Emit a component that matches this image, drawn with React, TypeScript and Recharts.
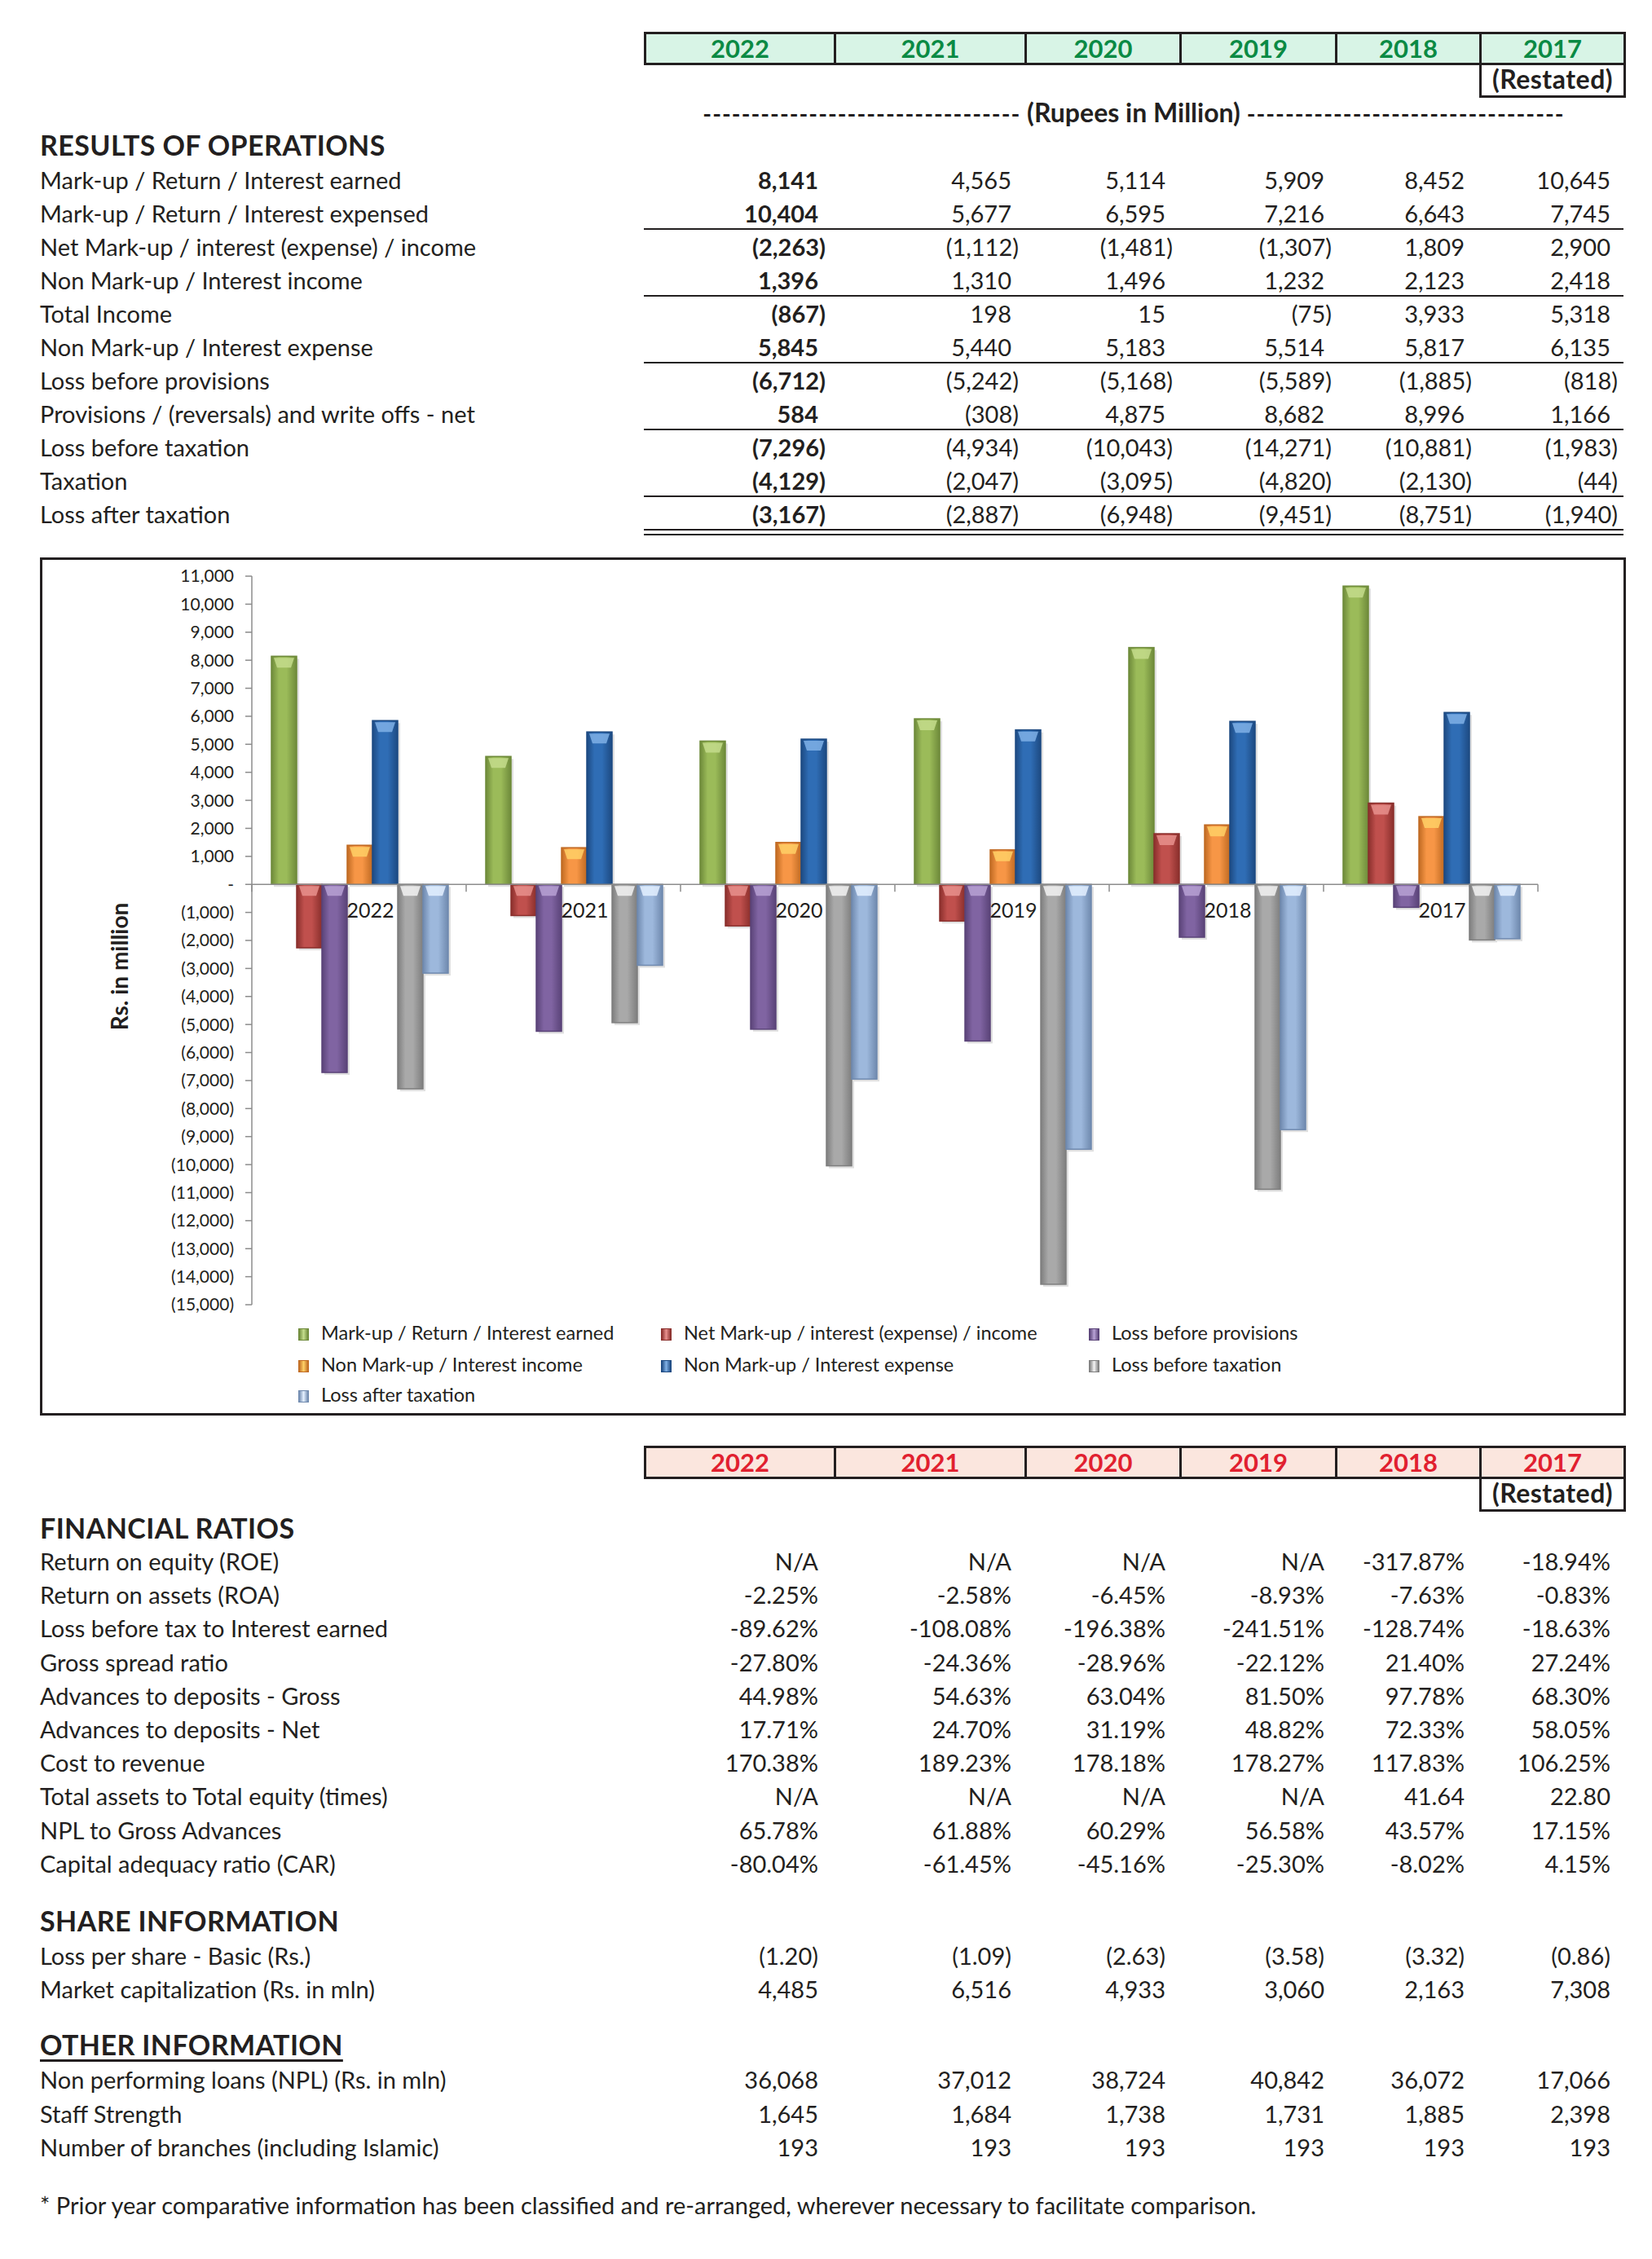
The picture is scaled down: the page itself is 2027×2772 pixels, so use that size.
import React from 'react';
import { Bar, BarChart, Legend, ReferenceLine, XAxis, YAxis } from 'recharts';

const years = ['2022', '2021', '2020', '2019', '2018', '2017'];

// Results of operations (Rs. in million)
const markupEarned = [8141, 4565, 5114, 5909, 8452, 10645];
const markupExpensed = [10404, 5677, 6595, 7216, 6643, 7745];
const netMarkup = [-2263, -1112, -1481, -1307, 1809, 2900];
const nonMarkupIncome = [1396, 1310, 1496, 1232, 2123, 2418];
const totalIncome = [-867, 198, 15, -75, 3933, 5318];
const nonMarkupExpense = [5845, 5440, 5183, 5514, 5817, 6135];
const lossBeforeProvisions = [-6712, -5242, -5168, -5589, -1885, -818];
const provisions = [584, -308, 4875, 8682, 8996, 1166];
const lossBeforeTax = [-7296, -4934, -10043, -14271, -10881, -1983];
const taxation = [-4129, -2047, -3095, -4820, -2130, -44];
const lossAfterTax = [-3167, -2887, -6948, -9451, -8751, -1940];

const yTicks = [11000, 10000, 9000, 8000, 7000, 6000, 5000, 4000, 3000, 2000, 1000, 0,
  -1000, -2000, -3000, -4000, -5000, -6000, -7000, -8000, -9000, -10000, -11000, -12000, -13000, -14000, -15000];
const yDomain: [number, number] = [-15000, 11000];

const ratioLabels = [
  'Return on equity (ROE)', 'Return on assets (ROA)', 'Loss before tax to Interest earned', 'Gross spread ratio',
  'Advances to deposits - Gross', 'Advances to deposits - Net', 'Cost to revenue', 'Total assets to Total equity (times)',
  'NPL to Gross Advances', 'Capital adequacy ratio (CAR)',
];
const ratioValues = [
  ['N/A', 'N/A', 'N/A', 'N/A', '-317.87%', '-18.94%'],
  ['-2.25%', '-2.58%', '-6.45%', '-8.93%', '-7.63%', '-0.83%'],
  ['-89.62%', '-108.08%', '-196.38%', '-241.51%', '-128.74%', '-18.63%'],
  ['-27.80%', '-24.36%', '-28.96%', '-22.12%', '21.40%', '27.24%'],
  ['44.98%', '54.63%', '63.04%', '81.50%', '97.78%', '68.30%'],
  ['17.71%', '24.70%', '31.19%', '48.82%', '72.33%', '58.05%'],
  ['170.38%', '189.23%', '178.18%', '178.27%', '117.83%', '106.25%'],
  ['N/A', 'N/A', 'N/A', 'N/A', '41.64', '22.80'],
  ['65.78%', '61.88%', '60.29%', '56.58%', '43.57%', '17.15%'],
  ['-80.04%', '-61.45%', '-45.16%', '-25.30%', '-8.02%', '4.15%'],
];
const shareLabels = ['Loss per share - Basic (Rs.)', 'Market capitalization (Rs. in mln)'];
const shareValues = [
  ['(1.20)', '(1.09)', '(2.63)', '(3.58)', '(3.32)', '(0.86)'],
  ['4,485', '6,516', '4,933', '3,060', '2,163', '7,308'],
];
const otherLabels = ['Non performing loans (NPL) (Rs. in mln)', 'Staff Strength', 'Number of branches (including Islamic)'];
const otherValues = [
  ['36,068', '37,012', '38,724', '40,842', '36,072', '17,066'],
  ['1,645', '1,684', '1,738', '1,731', '1,885', '2,398'],
  ['193', '193', '193', '193', '193', '193'],
];

const opsRows: [string, number[]][] = [
  ['Mark-up / Return / Interest earned', markupEarned],
  ['Mark-up / Return / Interest expensed', markupExpensed],
  ['Net Mark-up / interest (expense) / income', netMarkup],
  ['Non Mark-up / Interest income', nonMarkupIncome],
  ['Total Income', totalIncome],
  ['Non Mark-up / Interest expense', nonMarkupExpense],
  ['Loss before provisions', lossBeforeProvisions],
  ['Provisions / (reversals) and write offs - net', provisions],
  ['Loss before taxation', lossBeforeTax],
  ['Taxation', taxation],
  ['Loss after taxation', lossAfterTax],
];

const series = [
  { key: 'earned', name: 'Mark-up / Return / Interest earned', values: markupEarned, color: '#9BBB59', dark: '#6E8A3A', light: '#C4DC8C' },
  { key: 'net', name: 'Net Mark-up / interest (expense) / income', values: netMarkup, color: '#C0504D', dark: '#8A2F2C', light: '#E8908D' },
  { key: 'lbp', name: 'Loss before provisions', values: lossBeforeProvisions, color: '#8064A2', dark: '#5A4378', light: '#B7A1D4' },
  { key: 'nmi', name: 'Non Mark-up / Interest income', values: nonMarkupIncome, color: '#F79646', dark: '#C06A22', light: '#FFD066' },
  { key: 'nme', name: 'Non Mark-up / Interest expense', values: nonMarkupExpense, color: '#2F6DB5', dark: '#1D4A82', light: '#7FB0E6' },
  { key: 'lbt', name: 'Loss before taxation', values: lossBeforeTax, color: '#A9A9A9', dark: '#7E7E7E', light: '#F2F2F2' },
  { key: 'lat', name: 'Loss after taxation', values: lossAfterTax, color: '#9DB8DC', dark: '#6F89AE', light: '#E4F0FF' },
];

const chartData = years.map((year, i) => {
  const row: Record<string, string | number> = { year };
  series.forEach(s => { row[s.key] = s.values[i]; });
  return row;
});

// page geometry
const FONT = 'Lato, "Open Sans", sans-serif';
const colEdges = [790, 1023, 1257, 1447, 1638, 1815, 1992];
const valueRight = [1004, 1241, 1430, 1625, 1797, 1976];
const INK = '#231f20';
const ROW_FS = 29;

function fmt(v: number): string {
  const s = Math.abs(v).toLocaleString('en-US');
  return v < 0 ? `(${s})` : s;
}

function Text({ x, y, children, bold, size = ROW_FS, underline, spacing = 0 }: { x: number; y: number; children: React.ReactNode; bold?: boolean; size?: number; underline?: boolean; spacing?: number }) {
  return (
    <div style={{ position: 'absolute', left: x, top: y - 20, height: 40, lineHeight: '40px', fontSize: size, fontWeight: bold ? 700 : 400, letterSpacing: spacing, whiteSpace: 'nowrap', color: INK, textDecoration: underline ? 'underline' : 'none', textDecorationThickness: 3, textUnderlineOffset: 5 }}>
      {children}
    </div>
  );
}

function RText({ right, y, children, bold, pad = 0 }: { right: number; y: number; children: React.ReactNode; bold?: boolean; pad?: number }) {
  return (
    <div style={{ position: 'absolute', left: right - 300, width: 300 - pad, top: y - 20, height: 40, lineHeight: '40px', fontSize: ROW_FS, fontWeight: bold ? 700 : 400, textAlign: 'right', whiteSpace: 'nowrap', color: INK }}>
      {children}
    </div>
  );
}

function YearHeader({ top, fill, color }: { top: number; fill: string; color: string }) {
  return (
    <>
      {years.map((y, i) => (
        <div key={y} style={{ position: 'absolute', left: colEdges[i], top, width: colEdges[i + 1] - colEdges[i] + 3, height: 41, boxSizing: 'border-box', border: `3px solid ${INK}`, background: fill, color, fontWeight: 700, fontSize: 31, textAlign: 'center', lineHeight: '35px' }}>
          {y}
        </div>
      ))}
      <div style={{ position: 'absolute', left: colEdges[5], top: top + 38, width: colEdges[6] - colEdges[5] + 3, height: 43, boxSizing: 'border-box', borderLeft: `3px solid ${INK}`, borderRight: `3px solid ${INK}`, borderBottom: `3px solid ${INK}`, fontWeight: 700, fontSize: 32, letterSpacing: 0.5, textAlign: 'center', lineHeight: '40px', color: INK }}>
        (Restated)
      </div>
    </>
  );
}

function GlossBar(props: any) {
  const { x, y, width, height, index } = props;
  const s = series.find(d => d.key === props.dataKey) || series[0];
  if (!width || !height) return <g />;
  const top = height < 0 ? y + height : y;
  const h = Math.abs(height);
  const id = `grad-${s.key}-${index}`;
  const capH = Math.min(12, h * 0.5);
  return (
    <g>
      <defs>
        <linearGradient id={id} x1="0" y1="0" x2="1" y2="0">
          <stop offset="0%" stopColor={s.dark} />
          <stop offset="30%" stopColor={s.color} />
          <stop offset="60%" stopColor={s.color} />
          <stop offset="100%" stopColor={s.dark} />
        </linearGradient>
      </defs>
      <rect x={x + 3} y={top + 3} width={width} height={h} fill="#000" opacity={0.12} />
      <rect x={x} y={top} width={width} height={h} fill={`url(#${id})`} stroke={s.dark} strokeWidth={1.5} />
      <path d={`M${x + 3},${top + 2} L${x + width - 3},${top + 2} L${x + width - 7},${top + 2 + capH} L${x + 7},${top + 2 + capH} Z`} fill={s.light} opacity={0.85} />
    </g>
  );
}

const CH_W = 1946;
const CH_H = 1053;
const X_AXIS_H = 30;
const M = { top: 23, right: 108, bottom: 136 - X_AXIS_H, left: 150 };
const Y_AXIS_W = 110;
const plotH = CH_H - M.top - M.bottom - X_AXIS_H;
const plotW = CH_W - M.left - Y_AXIS_W - M.right;
const zeroY = M.top + plotH * (yDomain[1] / (yDomain[1] - yDomain[0]));
const band = plotW / years.length;

function CategoryTick(props: any) {
  const { x, payload, index } = props;
  return (
    <g>
      <line x1={x - band / 2} x2={x - band / 2} y1={zeroY} y2={zeroY + 9} stroke="#8c8c8c" strokeWidth={1.5} />
      {index === years.length - 1 && <line x1={x + band / 2} x2={x + band / 2} y1={zeroY} y2={zeroY + 9} stroke="#8c8c8c" strokeWidth={1.5} />}
      <text x={x + 14} y={zeroY + 41} textAnchor="middle" fontSize={25} fill={INK} fontFamily={FONT}>{payload.value}</text>
    </g>
  );
}

function LegendContent() {
  const colX = [317, 762, 1287];
  const rowY = [951, 990, 1027];
  return (
    <div style={{ position: 'relative', width: CH_W, height: 110 }}>
      {series.map((s, i) => {
        const cx = colX[i % 3];
        const cy = rowY[Math.floor(i / 3)] - 935;
        return (
          <div key={s.key} style={{ position: 'absolute', left: cx, top: cy - 15, height: 30, lineHeight: '30px', whiteSpace: 'nowrap', fontSize: 23.5, color: INK, fontFamily: FONT }}>
            <span style={{ display: 'inline-block', width: 11, height: 13, marginRight: 15, verticalAlign: -1, background: `linear-gradient(90deg, ${s.dark}, ${s.light} 50%, ${s.dark})`, border: `1px solid ${s.dark}` }} />
            {s.name}
          </div>
        );
      })}
    </div>
  );
}

function YLabel(props: any) {
  const vb = props.viewBox || { x: 0, y: 0, height: 0 };
  const cx = vb.x - 49;
  const cy = 502;
  return (
    <text x={cx} y={cy} transform={`rotate(-90 ${cx} ${cy})`} textAnchor="middle" dominantBaseline="middle" fontSize={28} fontWeight={700} fill={INK} fontFamily={FONT}>
      Rs. in million
    </text>
  );
}

const dashes = '-'.repeat(33);

export default function App() {
  const opsY = opsRows.map((_, i) => 221 + i * 41);
  const ratioY = ratioLabels.map((_, i) => 1916 + i * 41.2);
  const shareY = [2400, 2441];
  const otherY = [2552, 2594, 2635];
  const lineRuleIdx = [1, 3, 5, 7, 9];

  return (
    <div style={{ position: 'absolute', left: 0, top: 0, width: 2027, height: 2772, background: '#fff', fontFamily: FONT, color: INK }}>
      <YearHeader top={39} fill="#D8F4E6" color="#0A8A44" />
      <div style={{ position: 'absolute', left: 791, width: 1200, top: 118, height: 40, lineHeight: '40px', fontSize: 29, fontWeight: 700, whiteSpace: 'nowrap', textAlign: 'center' }}>
        <span style={{ letterSpacing: 1 }}>{dashes}</span>
        <span style={{ fontSize: 32 }}> (Rupees in Million) </span>
        <span style={{ letterSpacing: 1 }}>{dashes}</span>
      </div>

      <Text x={49} y={178} bold size={34} spacing={0.4}>RESULTS OF OPERATIONS</Text>
      {opsRows.map(([label, vals], r) => (
        <React.Fragment key={label}>
          <Text x={49} y={opsY[r]}>{label}</Text>
          {vals.map((v, c) => (
            <RText key={c} right={valueRight[c] + 9} y={opsY[r]} bold={c === 0} pad={v < 0 ? 0 : 9}>{fmt(v)}</RText>
          ))}
        </React.Fragment>
      ))}
      {lineRuleIdx.map(i => (
        <div key={i} style={{ position: 'absolute', left: colEdges[0], width: colEdges[6] - colEdges[0], top: opsY[i] + 18, height: 2, background: INK }} />
      ))}
      <div style={{ position: 'absolute', left: colEdges[0], width: colEdges[6] - colEdges[0], top: opsY[10] + 18, height: 2, background: INK }} />
      <div style={{ position: 'absolute', left: colEdges[0], width: colEdges[6] - colEdges[0], top: opsY[10] + 24, height: 2, background: INK }} />

      <div style={{ position: 'absolute', left: 49, top: 684, width: CH_W, height: CH_H, boxSizing: 'border-box', border: `3px solid ${INK}` }} />
      <div style={{ position: 'absolute', left: 49, top: 684 }}>
        <BarChart width={CH_W} height={CH_H} data={chartData} margin={M} barCategoryGap={24} barGap={0}>
          <XAxis dataKey="year" height={X_AXIS_H} axisLine={false} tickLine={false} tick={<CategoryTick />} interval={0} />
          <YAxis
            width={Y_AXIS_W}
            domain={yDomain}
            ticks={yTicks}
            interval={0}
            allowDataOverflow
            tickFormatter={(v: number) => (v === 0 ? '-' : fmt(v))}
            tick={{ fontSize: 21, fill: INK, fontFamily: FONT }}
            tickSize={8}
            tickMargin={14}
            axisLine={{ stroke: '#8c8c8c', strokeWidth: 1.5 }}
            tickLine={{ stroke: '#8c8c8c', strokeWidth: 1.5 }}
            label={<YLabel />}
          />
          <ReferenceLine y={0} stroke="#8c8c8c" strokeWidth={1.5} />
          {series.map(s => (
            <Bar key={s.key} dataKey={s.key} name={s.name} fill={s.color} shape={<GlossBar />} isAnimationActive={false} />
          ))}
          <Legend layout="horizontal" verticalAlign="middle" align="center" content={<LegendContent />} wrapperStyle={{ left: 0, top: 935, width: CH_W, height: 110 }} />
        </BarChart>
      </div>

      <YearHeader top={1774} fill="#FBE6DE" color="#E1202F" />
      <Text x={49} y={1875} bold size={34} spacing={0.4}>FINANCIAL RATIOS</Text>
      {ratioLabels.map((label, r) => (
        <React.Fragment key={label}>
          <Text x={49} y={ratioY[r]}>{label}</Text>
          {ratioValues[r].map((v, c) => <RText key={c} right={valueRight[c]} y={ratioY[r]}>{v}</RText>)}
        </React.Fragment>
      ))}

      <Text x={49} y={2357} bold size={34} spacing={0.4}>SHARE INFORMATION</Text>
      {shareLabels.map((label, r) => (
        <React.Fragment key={label}>
          <Text x={49} y={shareY[r]}>{label}</Text>
          {shareValues[r].map((v, c) => <RText key={c} right={valueRight[c]} y={shareY[r]}>{v}</RText>)}
        </React.Fragment>
      ))}

      <Text x={49} y={2509} bold size={34} spacing={0.4} underline>OTHER INFORMATION</Text>
      {otherLabels.map((label, r) => (
        <React.Fragment key={label}>
          <Text x={49} y={otherY[r]}>{label}</Text>
          {otherValues[r].map((v, c) => <RText key={c} right={valueRight[c]} y={otherY[r]}>{v}</RText>)}
        </React.Fragment>
      ))}

      <Text x={49} y={2706}>* Prior year comparative information has been classified and re-arranged, wherever necessary to facilitate comparison.</Text>
    </div>
  );
}
